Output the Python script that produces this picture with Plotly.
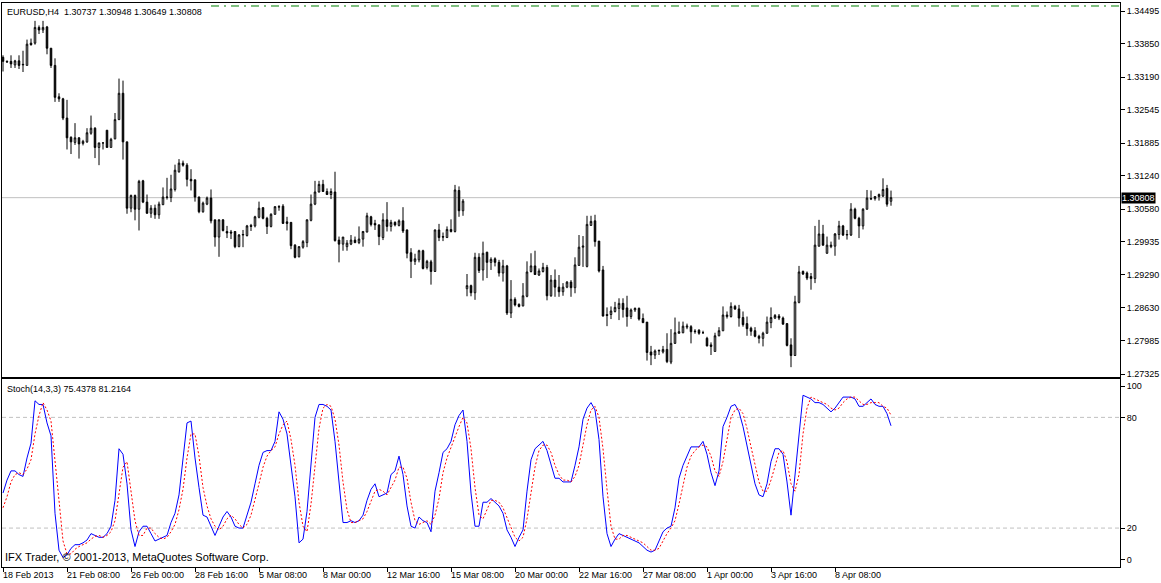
import plotly.graph_objects as go

# ---------------- data ----------------
open_ = [
 1.3358,1.3350,1.3350,1.3343,1.3351,1.3343,1.3342,1.3386,1.3386,1.3417,
 1.3412,1.3418,1.3376,1.3342,1.3280,1.3276,1.3238,1.3200,1.3190,1.3199,
 1.3188,1.3191,1.3208,1.3218,1.3180,1.3189,1.3214,1.3180,1.3197,1.3235,
 1.3287,1.3191,1.3060,1.3085,1.3058,1.3114,1.3072,1.3050,1.3060,1.3047,
 1.3067,1.3081,1.3081,1.3097,1.3132,1.3149,1.3145,1.3117,1.3116,1.3082,
 1.3053,1.3068,1.3080,1.3037,1.3003,1.3037,1.3014,1.3013,1.3014,1.2984,
 1.3007,1.3006,1.3026,1.3025,1.3042,1.3061,1.3040,1.3024,1.3048,1.3062,
 1.3064,1.3033,1.3032,1.2987,1.2964,1.2983,1.2992,1.3036,1.3068,1.3092,
 1.3107,1.3093,1.3087,1.3092,1.2997,1.2989,1.2984,1.2989,1.2997,1.2992,
 1.2999,1.3013,1.3043,1.3030,1.3027,1.3002,1.3037,1.3024,1.3032,1.3026,
 1.3035,1.3017,1.2972,1.2955,1.2958,1.2976,1.2943,1.2954,1.2935,1.3017,
 1.3004,1.3002,1.3018,1.3014,1.3095,1.3055,1.2901,1.2907,1.2893,1.2963,
 1.2938,1.2973,1.2953,1.2960,1.2953,1.2932,1.2946,1.2853,1.2880,1.2870,
 1.2867,1.2886,1.2935,1.2946,1.2928,1.2935,1.2943,1.2887,1.2918,1.2904,
 1.2895,1.2904,1.2914,1.2903,1.2947,1.2983,1.2945,1.3026,1.3035,1.2995,
 1.2938,1.2850,1.2850,1.2856,1.2862,1.2872,1.2863,1.2846,1.2859,1.2862,
 1.2842,1.2835,1.2776,1.2770,1.2778,1.2776,1.2781,1.2756,1.2793,1.2813,
 1.2814,1.2825,1.2826,1.2816,1.2819,1.2814,1.2803,1.2790,1.2777,1.2808,
 1.2818,1.2846,1.2846,1.2866,1.2861,1.2844,1.2832,1.2823,1.2818,1.2807,
 1.2803,1.2813,1.2834,1.2843,1.2847,1.2843,1.2832,1.2790,1.2769,1.2874,
 1.2935,1.2932,1.2925,1.2921,1.2985,1.3009,1.2971,1.2984,1.2985,1.3008,
 1.3025,1.3007,1.3007,1.3058,1.3040,1.3025,1.3058,1.3078,1.3079,1.3083,
 1.3084,1.3099,1.30737]

high_ = [
 1.3362,1.3352,1.3362,1.3353,1.3362,1.3371,1.3393,1.3395,1.3430,1.3421,
 1.3430,1.3420,1.3376,1.3356,1.3287,1.3278,1.3274,1.3202,1.3228,1.3200,
 1.3195,1.3218,1.3243,1.3220,1.3189,1.3189,1.3214,1.3199,1.3248,1.3316,
 1.3312,1.3191,1.3087,1.3087,1.3116,1.3116,1.3087,1.3066,1.3067,1.3073,
 1.3101,1.3120,1.3126,1.3146,1.3157,1.3154,1.3149,1.3137,1.3116,1.3083,
 1.3073,1.3083,1.3097,1.3037,1.3038,1.3038,1.3025,1.3017,1.3014,1.3009,
 1.3017,1.3027,1.3029,1.3045,1.3073,1.3062,1.3043,1.3050,1.3064,1.3066,
 1.3068,1.3043,1.3032,1.2989,1.2985,1.2997,1.3038,1.3087,1.3114,1.3114,
 1.3116,1.3099,1.3099,1.3132,1.3004,1.3003,1.2997,1.3007,1.3004,1.3024,
 1.3015,1.3051,1.3045,1.3037,1.3028,1.3050,1.3072,1.3037,1.3034,1.3038,
 1.3062,1.3018,1.2981,1.2970,1.2978,1.2978,1.2958,1.2958,1.3018,1.3029,
 1.3012,1.3024,1.3038,1.3106,1.3103,1.3078,1.2930,1.2909,1.2972,1.2971,
 1.2994,1.2974,1.2963,1.2963,1.2958,1.2958,1.2948,1.2918,1.2884,1.2872,
 1.2912,1.2955,1.2971,1.2976,1.2941,1.2952,1.2948,1.2928,1.2939,1.2928,
 1.2912,1.2916,1.2918,1.2963,1.3007,1.3005,1.3045,1.3045,1.3047,1.2995,
 1.2946,1.2864,1.2866,1.2875,1.2882,1.2882,1.2887,1.2862,1.2864,1.2864,
 1.2852,1.2835,1.2788,1.2781,1.2781,1.2788,1.2813,1.2821,1.2844,1.2836,
 1.2836,1.2832,1.2829,1.2821,1.2821,1.2818,1.2806,1.2795,1.2814,1.2825,
 1.2866,1.2856,1.2874,1.2869,1.2869,1.2856,1.2846,1.2826,1.2825,1.2810,
 1.2816,1.2846,1.2864,1.2851,1.2851,1.2846,1.2833,1.2803,1.2887,1.2946,
 1.2937,1.2935,1.2932,1.3025,1.3037,1.3027,1.3004,1.2994,1.3011,1.3035,
 1.3027,1.3017,1.3070,1.3061,1.3043,1.3060,1.3096,1.3095,1.3084,1.3089,
 1.3119,1.3106,1.30948]

low_ = [
 1.3330,1.3347,1.3337,1.3337,1.3335,1.3329,1.3342,1.3381,1.3383,1.3404,
 1.3406,1.3364,1.3337,1.3270,1.3270,1.3234,1.3176,1.3167,1.3185,1.3158,
 1.3184,1.3189,1.3205,1.3159,1.3145,1.3176,1.3180,1.3180,1.3196,1.3234,
 1.3156,1.3049,1.3052,1.3036,1.3016,1.3070,1.3049,1.3041,1.3039,1.3039,
 1.3066,1.3077,1.3072,1.3093,1.3130,1.3142,1.3103,1.3095,1.3073,1.3050,
 1.3051,1.3066,1.3030,1.2984,1.2964,1.3014,1.3001,1.2999,1.2981,1.2983,
 1.2983,1.3004,1.3015,1.3022,1.3040,1.3038,1.3009,1.3022,1.3047,1.3055,
 1.3029,1.3016,1.2979,1.2961,1.2963,1.2980,1.2983,1.3034,1.3066,1.3091,
 1.3092,1.3086,1.3078,1.2994,1.2953,1.2976,1.2976,1.2987,1.2991,1.2989,
 1.2984,1.3012,1.3024,1.3017,1.2987,1.2997,1.3014,1.3014,1.3024,1.3024,
 1.3011,1.2961,1.2922,1.2948,1.2953,1.2939,1.2939,1.2909,1.2934,1.2995,
 1.2995,1.3001,1.3012,1.3012,1.3043,1.3045,1.2886,1.2886,1.2879,1.2932,
 1.2917,1.2922,1.2938,1.2945,1.2925,1.2915,1.2849,1.2843,1.2866,1.2864,
 1.2866,1.2884,1.2933,1.2928,1.2926,1.2933,1.2878,1.2885,1.2885,1.2885,
 1.2887,1.2902,1.2885,1.2892,1.2946,1.2944,1.2943,1.3025,1.2984,1.2933,
 1.2846,1.2827,1.2841,1.2854,1.2839,1.2844,1.2826,1.2841,1.2855,1.2838,
 1.2833,1.2759,1.2750,1.2762,1.2770,1.2773,1.2754,1.2752,1.2792,1.2812,
 1.2813,1.2821,1.2793,1.2812,1.2810,1.2812,1.2787,1.2770,1.2777,1.2807,
 1.2817,1.2842,1.2844,1.2859,1.2826,1.2826,1.2808,1.2808,1.2805,1.2793,
 1.2787,1.2812,1.2823,1.2841,1.2839,1.2830,1.2787,1.2746,1.2768,1.2872,
 1.2928,1.2918,1.2899,1.2912,1.2984,1.2986,1.2970,1.2981,1.2966,1.2998,
 1.3005,1.2998,1.3005,1.3038,1.3001,1.3018,1.3057,1.3076,1.3075,1.3075,
 1.3082,1.3063,1.30649]

close_ = [
 1.3350,1.3349,1.3345,1.3351,1.3342,1.3344,1.3384,1.3383,1.3417,1.3412,
 1.3417,1.3376,1.3342,1.3279,1.3276,1.3238,1.3199,1.3191,1.3199,1.3187,
 1.3192,1.3209,1.3218,1.3180,1.3189,1.3189,1.3180,1.3196,1.3235,1.3287,
 1.3191,1.3060,1.3085,1.3058,1.3113,1.3072,1.3050,1.3060,1.3047,1.3068,
 1.3082,1.3082,1.3098,1.3135,1.3149,1.3145,1.3117,1.3114,1.3082,1.3053,
 1.3070,1.3080,1.3035,1.3003,1.3037,1.3016,1.3011,1.3011,1.2984,1.3007,
 1.3008,1.3025,1.3024,1.3043,1.3060,1.3040,1.3024,1.3048,1.3063,1.3063,
 1.3030,1.3030,1.2986,1.2963,1.2984,1.2994,1.3037,1.3068,1.3092,1.3107,
 1.3093,1.3087,1.3093,1.2996,1.2989,1.3003,1.2991,1.2997,1.2992,1.2999,
 1.3014,1.3045,1.3028,1.3027,1.3004,1.3037,1.3024,1.3032,1.3027,1.3035,
 1.3015,1.2971,1.2955,1.2960,1.2976,1.2941,1.2955,1.2935,1.3017,1.3002,
 1.3003,1.3018,1.3014,1.3096,1.3055,1.3074,1.2907,1.2893,1.2963,1.2937,
 1.2971,1.2953,1.2959,1.2953,1.2932,1.2946,1.2853,1.2880,1.2869,1.2866,
 1.2887,1.2934,1.2946,1.2929,1.2936,1.2943,1.2887,1.2918,1.2904,1.2895,
 1.2904,1.2914,1.2903,1.2948,1.2983,1.2985,1.3028,1.3034,1.2994,1.2936,
 1.2847,1.2848,1.2857,1.2864,1.2872,1.2860,1.2846,1.2859,1.2862,1.2841,
 1.2834,1.2775,1.2770,1.2778,1.2779,1.2781,1.2757,1.2793,1.2814,1.2816,
 1.2827,1.2827,1.2816,1.2817,1.2813,1.2814,1.2788,1.2787,1.2808,1.2818,
 1.2849,1.2849,1.2866,1.2861,1.2843,1.2830,1.2822,1.2817,1.2807,1.2803,
 1.2813,1.2835,1.2844,1.2848,1.2843,1.2831,1.2789,1.2769,1.2875,1.2934,
 1.2930,1.2922,1.2921,1.2987,1.3009,1.2987,1.2987,1.2987,1.3009,1.3025,
 1.3007,1.3008,1.3058,1.3040,1.3025,1.3058,1.3080,1.3079,1.3083,1.3087,
 1.3097,1.3068,1.30808]

stoch_k = [
 39,46,51,51,49,48,58,66,89,87,
 87,77,70,28,8,4,5.5,9,11,11,
 12,13.5,17,16,15,15,17,21,35,63,
 60,44,19,10,18,21,21,17,13,14,
 15,16,23,28,38,58,77,78,58,42,
 27,26,21,16,21,26,29,26,21,20,
 20,27,34,44,54,61,62,62,67,83,
 79,71,54,37,12,14,29,56,80,87,
 87,86,84,67,44,23,23,24,23,24,
 27,35,41,44,37,38,39,49,51,59,
 49,32,21,20,26,24,23,18,40,50,
 61,63,67,76,81,84,67,39,21,21,
 34,34,36,34,32,28,19,15,10,15,
 19,40,57,63,65,67,62,54,47,47,
 45,45,45,54,64,79,85,88,84,68,
 37,17,10,14,17,16,15,14,13,12,
 10,8,7,8,13,18,20,21,31,47,
 54,59,64,64,64,67,60,50,43,51,
 75,80,86,87,83,75,64,54,44,38,
 37,44,56,63,63,60,45,27,49,72,
 92,91,90,88,88,87,85,83,85,88,
 91,91,91,90,86,86,88,90,87,86,
 86,82,75.4378]

stoch_d = [
 31,37,45,49,50,49,52,57,71,81,
 88,84,78,58,35,13,6,6,8.5,10,
 11,12,14,15.5,16,15,16,18,24,40,
 53,56,41,24,16,16,20,20,17,15,
 14,15,18,22,30,41,58,71,71,59,
 42,32,25,21,19,21,25,27,25,22,
 20,22,27,35,44,53,59,62,64,71,
 76,78,68,54,34,21,18,33,55,74,
 85,87,86,79,65,45,30,23,23,24,
 25,29,34,40,41,40,38,42,46,53,
 53,47,34,24,22,23,24,22,27,36,
 50,58,64,69,75,80,77,63,42,27,
 25,30,35,35,34,31,26,21,15,13,
 15,25,39,53,62,65,65,61,54,49,
 46,46,45,48,54,66,76,84,86,80,
 63,41,21,14,14,16,16,15,14,13,
 12,10,8,8,9,13,17,20,24,33,
 44,53,59,62,64,65,64,59,51,48,
 56,69,80,84,85,82,74,64,54,45,
 40,40,46,54,61,62,56,44,40,49,
 71,85,91,90,89,88,87,85,84,85,
 88,90,91,91,89,87,87,88,88,88,
 86,85,81.2164]

date_labels = ["18 Feb 2013", "21 Feb 08:00", "26 Feb 00:00", "28 Feb 16:00",
               "5 Mar 08:00", "8 Mar 00:00", "12 Mar 16:00", "15 Mar 08:00",
               "20 Mar 00:00", "22 Mar 16:00", "27 Mar 08:00", "1 Apr 00:00",
               "3 Apr 16:00", "8 Apr 08:00"]
date_label_bars = [0, 16, 32, 48, 64, 80, 96, 112, 128, 144, 160, 176, 192, 208]

price_ticks = [1.34495, 1.33850, 1.33190, 1.32545, 1.31885, 1.31240,
               1.30580, 1.29935, 1.29290, 1.28630, 1.27985, 1.27325]
stoch_levels = [80, 20]
stoch_tick_pos = [97, 80, 20, 3]
stoch_tick_text = ["100", "80", "20", "0"]

last_price = 1.30808
green_level = 1.34594
green_start_bar = 52

symbol_title = "EURUSD,H4\u00a0 1.30737 1.30948 1.30649 1.30808"
stoch_title = "Stoch(14,3,3) 75.4378 81.2164"
copyright_text = "IFX Trader, \u00a9 2001-2013, MetaQuotes Software Corp."

# ---------------- figure ----------------
FONT = "Liberation Sans, Arial, sans-serif"
W, H = 1161, 583
ML, MR, MT, MB = 2, 41, 3, 16
plot_h = H - MT - MB
main_dom0 = (H - MB - 376.5) / plot_h
stoch_dom1 = (H - MB - 379.0) / plot_h

bars = list(range(len(close_)))
x_range = [-0.25, 279.25]

fig = go.Figure()
fig.add_trace(go.Candlestick(
    x=bars, open=open_, high=high_, low=low_, close=close_,
    xaxis="x2", yaxis="y2",
    increasing=dict(line=dict(color="black", width=1), fillcolor="white"),
    decreasing=dict(line=dict(color="black", width=1), fillcolor="black"),
    whiskerwidth=0, showlegend=False, hoverinfo="skip"))
fig.add_trace(go.Scatter(x=bars, y=stoch_k, mode="lines", xaxis="x", yaxis="y",
                         line=dict(color="#0000ff", width=1), showlegend=False))
fig.add_trace(go.Scatter(x=bars, y=stoch_d, mode="lines", xaxis="x", yaxis="y",
                         line=dict(color="#ff0000", width=1, dash="2px,2px"),
                         showlegend=False))

common = dict(showgrid=False, zeroline=False, showline=True, linecolor="black",
              linewidth=1, mirror=True)
tickfont = dict(family=FONT, size=9, color="black")

fig.update_layout(
    width=W, height=H, margin=dict(l=ML, r=MR, t=MT, b=MB),
    paper_bgcolor="white", plot_bgcolor="white", showlegend=False,
    boxgap=0.45,
    xaxis=dict(domain=[0, 1], anchor="y", range=x_range, tickvals=date_label_bars,
               ticks="outside", ticklen=4, tickcolor="black", showticklabels=False,
               rangeslider=dict(visible=False), **common),
    xaxis2=dict(domain=[0, 1], anchor="y2", range=x_range, matches="x",
                showticklabels=False, ticks="", rangeslider=dict(visible=False), **common),
    yaxis=dict(domain=[0, stoch_dom1], anchor="x", side="right", range=[-1.1, 100.8],
               tickvals=stoch_tick_pos, ticktext=stoch_tick_text, ticks="outside",
               ticklen=4, tickcolor="black", tickfont=tickfont, **common),
    yaxis2=dict(domain=[main_dom0, 1], anchor="x2", side="right",
                range=[1.272756, 1.346530], tickvals=price_ticks,
                ticktext=[f"{v:.5f}" for v in price_ticks], ticks="outside",
                ticklen=4, tickcolor="black", tickfont=tickfont, **common),
)

shapes = []
shapes.append(dict(type="line", xref="x2 domain", x0=0, x1=1, yref="y2",
                   y0=last_price, y1=last_price, line=dict(color="#c0c0c0", width=1),
                   layer="below"))
shapes.append(dict(type="line", xref="x2", x0=green_start_bar, x1=x_range[1], yref="y2",
                   y0=green_level, y1=green_level,
                   line=dict(color="#008000", width=1, dash="8px,5px,2px,5px")))
for lv in stoch_levels:
    shapes.append(dict(type="line", xref="x domain", x0=0, x1=1, yref="y",
                       y0=lv, y1=lv, line=dict(color="#c0c0c0", width=1, dash="4px,3px"),
                       layer="below"))
fig.update_layout(shapes=shapes)

ann = []
for b, t in zip(date_label_bars, date_labels):
    ann.append(dict(x=b, xref="x", y=0, yref="paper", text=t, showarrow=False,
                    xanchor="left", yanchor="top", yshift=-1, xshift=-2,
                    font=dict(family=FONT, size=9, color="black")))
ann.append(dict(x=0, xref="paper", y=1, yref="paper", text=symbol_title, showarrow=False,
                xanchor="left", yanchor="top", xshift=3, yshift=-2,
                font=dict(family=FONT, size=9, color="black")))
ann.append(dict(x=0, xref="paper", y=stoch_dom1, yref="paper", text=stoch_title,
                showarrow=False, xanchor="left", yanchor="top", xshift=3, yshift=-3,
                font=dict(family=FONT, size=9, color="black")))
ann.append(dict(x=0, xref="paper", y=0, yref="paper", text=copyright_text,
                showarrow=False, xanchor="left", yanchor="bottom", xshift=1, yshift=2,
                font=dict(family=FONT, size=11, color="black")))
ann.append(dict(x=1, xref="paper", y=last_price, yref="y2", text=f"{last_price:.5f}",
                showarrow=False, xanchor="left", yanchor="middle", xshift=1,
                bgcolor="black", borderpad=0,
                font=dict(family=FONT, size=9, color="white")))
fig.update_layout(annotations=ann)

fig.write_html("out.html", config={"displayModeBar": False},
               post_script="document.body.style.margin='0';document.body.style.padding='0';")
